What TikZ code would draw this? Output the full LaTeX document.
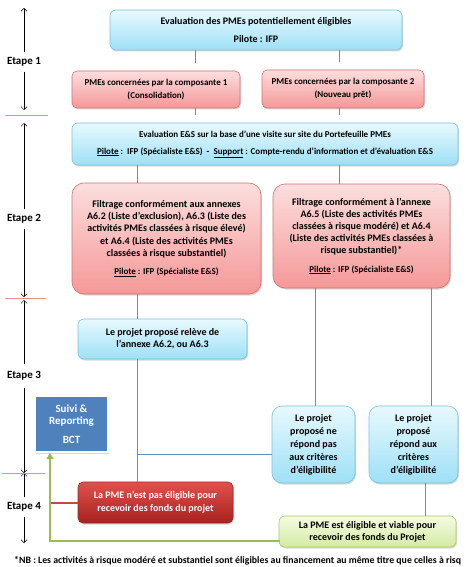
\documentclass[tikz,border=0pt]{standalone}
\usepackage{fontspec}
\setmainfont{Carlito}
\usetikzlibrary{arrows.meta,shadows}
\definecolor{bluetop}{RGB}{232,249,254}
\definecolor{bluebot}{RGB}{158,224,246}
\definecolor{bluebd}{RGB}{118,194,222}
\definecolor{pinktop}{RGB}{252,222,222}
\definecolor{pinkbot}{RGB}{245,152,152}
\definecolor{pinkbd}{RGB}{214,112,112}
\definecolor{greentop}{RGB}{245,251,226}
\definecolor{greenbot}{RGB}{212,234,166}
\definecolor{greenbd}{RGB}{165,205,95}
\definecolor{redtop}{RGB}{222,82,76}
\definecolor{redbot}{RGB}{168,34,30}
\definecolor{redbd}{RGB}{150,40,40}
\definecolor{bctfill}{RGB}{79,129,189}
\definecolor{connc}{RGB}{96,140,200}
\definecolor{greenl}{RGB}{150,190,80}
\definecolor{redl}{RGB}{196,72,68}
\definecolor{sepc}{RGB}{232,140,140}
\tikzset{
  box/.style={draw, line width=0.6pt, rounded corners=6pt, align=center, inner sep=1pt,
    font=\bfseries\fontsize{10}{12.2}\selectfont,
    drop shadow={opacity=0.3, shadow xshift=1pt, shadow yshift=-1.5pt}},
  bluebox/.style={box, draw=bluebd, top color=bluetop, bottom color=bluebot},
  pinkbox/.style={box, draw=pinkbd, top color=pinktop, bottom color=pinkbot},
  greenbox/.style={box, draw=greenbd, top color=greentop, bottom color=greenbot},
  redbox/.style={box, draw=redbd, top color=redtop, bottom color=redbot, text=white, rounded corners=5pt},
  bctbox/.style={draw=white, line width=2pt, fill=bctfill, text=white, align=center,
    font=\bfseries\fontsize{11}{12.5}\selectfont,
    drop shadow={opacity=0.3, shadow xshift=1pt, shadow yshift=-1.5pt}},
  conn/.style={draw=connc, line width=0.8pt},
  steplabel/.style={font=\bfseries\fontsize{11}{12}\selectfont, inner sep=5pt},
  steparrow/.style={draw=black, line width=0.5pt, -{Straight Barb[length=3pt,width=6pt]}},
  sepline/.style={draw=sepc, line width=0.8pt},
  greenline/.style={draw=greenl, line width=2pt},
  redline/.style={draw=redl, line width=2pt},
}
\begin{document}
\begin{tikzpicture}[x=1pt,y=-1pt]
\useasboundingbox (0,0) rectangle (468,567);
\fill[white] (0,0) rectangle (468,567);

% coordinates for connector columns
\coordinate (xa) at (195,0);
\coordinate (xb) at (339,0);
\coordinate (xc) at (137,0);
\coordinate (xd) at (315,0);
\coordinate (xe) at (431,0);
\coordinate (xf) at (425,0);
\coordinate (xg) at (50,0);
\coordinate (jn) at (137,454);
\coordinate (gl) at (280,541);

% nodes
\node[bluebox, minimum width=292pt, minimum height=40pt] (b1) at (256,30)
  {Evaluation des PMEs potentiellement éligibles\\[5pt]Pilote : IFP};
\node[pinkbox, rounded corners=5pt, minimum width=168pt, minimum height=37pt, font=\bfseries\fontsize{9}{13}\selectfont] (p1) at (156,89.5)
  {PMEs concernées par la composante 1\\(Consolidation)};
\node[pinkbox, rounded corners=5pt, minimum width=162pt, minimum height=38pt, font=\bfseries\fontsize{9}{13}\selectfont] (p2) at (343,89)
  {PMEs concernées par la composante 2\\(Nouveau prêt)};
\node[bluebox, minimum width=386pt, minimum height=42pt, font=\bfseries\fontsize{9}{11}\selectfont] (b3) at (265,144)
  {Evaluation E\&S sur la base d’une visite sur site du Portefeuille PMEs\\[6pt]\underline{Pilote} :\ \ IFP (Spécialiste E\&S)\ \ -\ \ \underline{Support} : Compte-rendu d’information et d’évaluation E\&S};
\node[pinkbox, rounded corners=12pt, minimum width=189pt, minimum height=111pt] (p3) at (166.5,238.5)
  {Filtrage conformément aux annexes\\A6.2 (Liste d’exclusion), A6.3 (Liste des\\activités PMEs classées à risque élevé)\\et A6.4 (Liste des activités PMEs\\classées à risque substantiel)\\[6pt]{\fontsize{9}{10}\selectfont\underline{Pilote} : IFP (Spécialiste E\&S)}};
\node[pinkbox, rounded corners=12pt, minimum width=177pt, minimum height=104pt] (p4) at (361.5,236)
  {Filtrage conformément à l’annexe\\A6.5 (Liste des activités PMEs\\classées à risque modéré) et A6.4\\(Liste des activités PMEs classées à\\risque substantiel)*\\[6pt]{\fontsize{9}{10}\selectfont\underline{Pilote} : IFP (Spécialiste E\&S)}};
\node[bluebox, minimum width=169pt, minimum height=40pt] (b5) at (162.5,339)
  {Le projet proposé relève de\\l'annexe A6.2, ou A6.3};
\node[bluebox, rounded corners=10pt, minimum width=83pt, minimum height=77pt, font=\bfseries\fontsize{10}{13}\selectfont] (b6) at (313.5,444.5)
  {Le projet\\proposé ne\\répond pas\\aux critères\\d'éligibilité};
\node[bluebox, rounded corners=10pt, minimum width=89pt, minimum height=77pt, font=\bfseries\fontsize{10}{13}\selectfont] (b7) at (413.5,444.5)
  {Le projet\\proposé\\répond aux\\critères\\d'éligibilité};
\node[greenbox, minimum width=177pt, minimum height=31pt] (g) at (367.5,531.5)
  {La PME est éligible et viable pour\\recevoir des fonds du Projet};
\node[redbox, minimum width=155pt, minimum height=41pt, font=\bfseries\fontsize{10}{13}\selectfont] (r) at (155.5,502.5)
  {La PME n'est pas éligible pour\\recevoir des fonds du projet};
\node[bctbox, minimum width=73pt, minimum height=56pt] (bct) at (71.5,424)
  {Suivi \&\\Reporting\\[6pt]BCT};

% connectors
\draw[conn, shorten >=8pt] (xa |- b1.south) -- (xa |- p1.north);
\draw[conn, shorten >=8pt] (xb |- b1.south) -- (xb |- p2.north);
\draw[conn, shorten >=8pt] (xa |- p1.south) -- (xa |- b3.north);
\draw[conn, shorten >=8pt] (xb |- p2.south) -- (xb |- b3.north);
\draw[conn] (xc |- b3.south) -- (xc |- p3.north);
\draw[conn] (xb |- b3.south) -- (xb |- p4.north);
\draw[conn] (xc |- p3.south) -- (xc |- b5.north);
\draw[conn] (xc |- b5.south) -- (xc |- r.north);
\draw[conn] (jn) -- (jn -| b6.west);
\draw[conn] (xd |- p4.south) -- (xd |- b6.north);
\draw[conn] (xe |- p4.south) -- (xe |- b7.north);
\draw[conn] (xf |- b7.south) -- (xf |- g.north);
\draw[redline] (r.west) -- (r.west -| xg);
\draw[greenline, -{Triangle[length=6pt,width=7pt]}] (gl) -| (xg |- bct.south);

% step annotations
\node[steplabel] (e1) at (24,62) {Etape 1};
\node[steplabel] (e2) at (24,219) {Etape 2};
\node[steplabel, inner sep=7pt] (e3) at (24,376) {Etape 3};
\node[steplabel] (e4) at (24,507) {Etape 4};
\coordinate (e1t) at (24,8);
\coordinate (e1b) at (24,110);
\coordinate (e2t) at (24,123);
\coordinate (e2b) at (24,297);
\coordinate (e3t) at (24,300);
\coordinate (e3b) at (24,473);
\coordinate (e4t) at (24,473);
\coordinate (e4b) at (24,543);
\draw[steparrow] (e1.north) -- (e1t);
\draw[steparrow] (e1.south) -- (e1b);
\draw[steparrow] (e2.north) -- (e2t);
\draw[steparrow] (e2.south) -- (e2b);
\draw[steparrow] (e3.north) -- (e3t);
\draw[steparrow] (e3.south) -- (e3b);
\draw[steparrow] (e4.north) -- (e4t);
\draw[steparrow] (e4.south) -- (e4b);
\draw[sepline] (5,115) -- (48,115);
\draw[sepline] (5,298) -- (46,298);
\draw[sepline] (2,473) -- (45,473);

% footnote
\node[anchor=west, inner sep=0pt, font=\bfseries\fontsize{9.8}{12}\selectfont] (nb) at (14,561)
  {*NB : Les activités à risque modéré et substantiel sont éligibles au financement au même titre que celles à risq};
\end{tikzpicture}
\end{document}
